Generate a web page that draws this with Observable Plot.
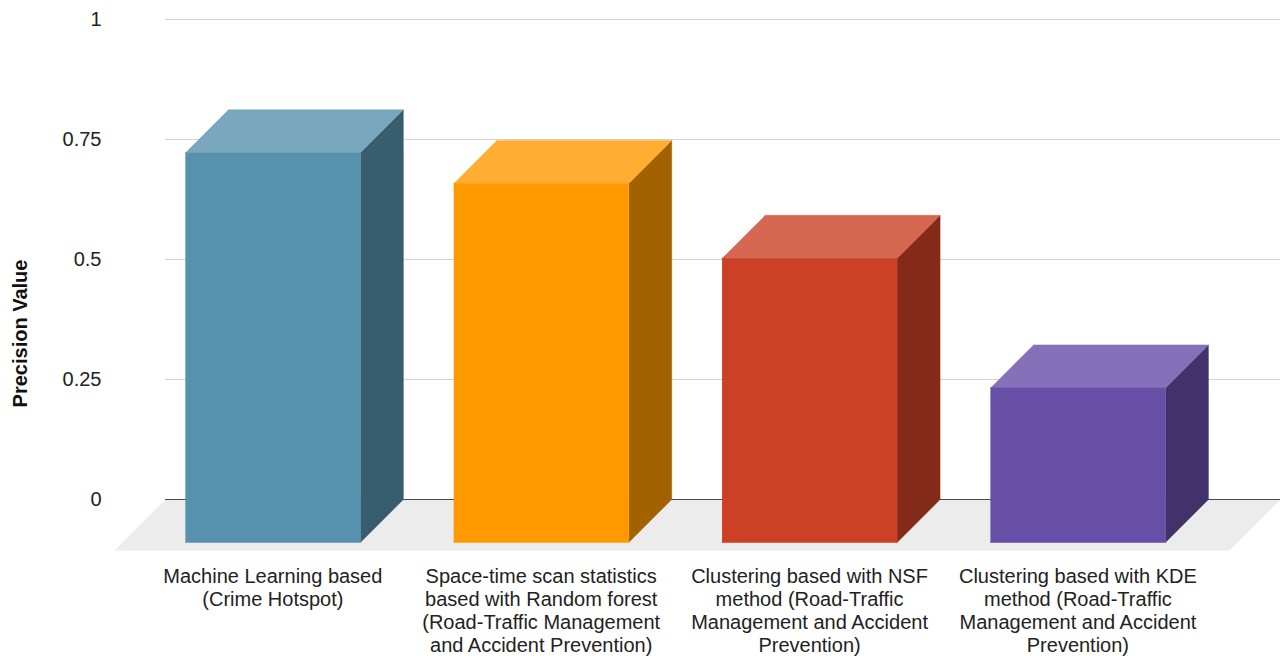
<!DOCTYPE html>
<html><head><meta charset="utf-8">
<script src="https://cdn.jsdelivr.net/npm/d3@7"></script>
<script src="https://cdn.jsdelivr.net/npm/@observablehq/plot@0.6"></script>
<style>body{margin:0;background:#fff;}</style>
</head><body><div id="chart"></div>
<script>
// ---- data ----
const categories = [
  "Machine Learning based\n(Crime Hotspot)",
  "Space-time scan statistics\nbased with Random forest\n(Road-Traffic Management\nand Accident Prevention)",
  "Clustering based with NSF\nmethod (Road-Traffic\nManagement and Accident\nPrevention)",
  "Clustering based with KDE\nmethod (Road-Traffic\nManagement and Accident\nPrevention)"
];
const precision = [0.812, 0.748, 0.592, 0.322];
const yTicks = [0, 0.25, 0.5, 0.75, 1];
const yTitle = "Precision Value";

// ---- styles / layout ----
const colors = ["#5891ad", "#ff9900", "#cc4125", "#674ea7"];
const W = 1285, H = 656;
const mL = 165, mR = 5, mT = 19, mB = 157;
const xDomain = [-0.4, 3.755];
const kx = (W - mL - mR) / (xDomain[1] - xDomain[0]);
const ky = (H - mT - mB);
const depthPx = 43, floorDepthPx = 51, barPx = 175;
const ddx = depthPx / kx, ddy = depthPx / ky;
const fdx = floorDepthPx / kx, fdy = floorDepthPx / ky;
const hw = barPx / kx / 2;
const titleY = (H - mB - (H / 2 + 5)) / ky; // vertical centre of the axis title

const polys = [];
function poly(id, fill, pts) { pts.forEach(([x, y]) => polys.push({id, x, y, fill})); }

poly("floor", "#ececec", [[xDomain[0], 0], [xDomain[1], 0], [xDomain[1] - fdx, -fdy], [xDomain[0] - fdx, -fdy]]);
const floorPolys = polys.splice(0);

precision.forEach((v, i) => {
  const c = colors[i];
  const top = d3.rgb(d3.interpolateRgb(c, "#ffffff")(0.2)).formatHex();
  const side = d3.rgb(c).darker(1.25).formatHex();
  const xl = i - hw, xr = i + hw, vf = v - ddy;
  poly("side" + i, side, [[xr, vf], [xr + ddx, v], [xr + ddx, 0], [xr, -ddy]]);
  poly("top" + i, top, [[xl, vf], [xr, vf], [xr + ddx, v], [xl + ddx, v]]);
  poly("front" + i, c, [[xl, vf], [xr, vf], [xr, -ddy], [xl, -ddy]]);
});

const chart = Plot.plot({
  width: W, height: H,
  marginLeft: mL, marginRight: mR, marginTop: mT, marginBottom: mB,
  style: {fontFamily: "Arial, 'Liberation Sans', sans-serif", fontSize: "20px", color: "#222", background: "#fff"},
  x: {domain: xDomain, axis: null},
  y: {domain: [0, 1], label: null},
  color: {type: "identity"},
  marks: [
    Plot.line(floorPolys, {x: "x", y: "y", z: "id", fill: "fill", stroke: "none"}),
    Plot.gridY(yTicks.filter(t => t > 0), {stroke: "#d3d3d3", strokeOpacity: 1, strokeWidth: 1}),
    Plot.ruleY([0], {stroke: "#4a4a4a", strokeWidth: 1.2}),
    Plot.line(polys, {x: "x", y: "y", z: "id", fill: "fill", stroke: "fill", strokeWidth: 0.5, strokeLinejoin: "miter"}),
    Plot.axisY(yTicks, {anchor: "left", label: null, tickSize: 0, tickPadding: 64, fontSize: 20, tickFormat: d => String(d), fill: "#222"}),
    Plot.text(categories, {x: (d, i) => i, frameAnchor: "bottom", dy: 67, lineAnchor: "top", lineHeight: 1.15, fontSize: 20, fill: "#222"}),
    Plot.text([yTitle], {y: () => titleY, frameAnchor: "left", dx: -145, rotate: -90, textAnchor: "middle", fontWeight: "bold", fontSize: 20, fill: "#111"})
  ]
});
document.getElementById("chart").appendChild(chart);
</script>
</body></html>
